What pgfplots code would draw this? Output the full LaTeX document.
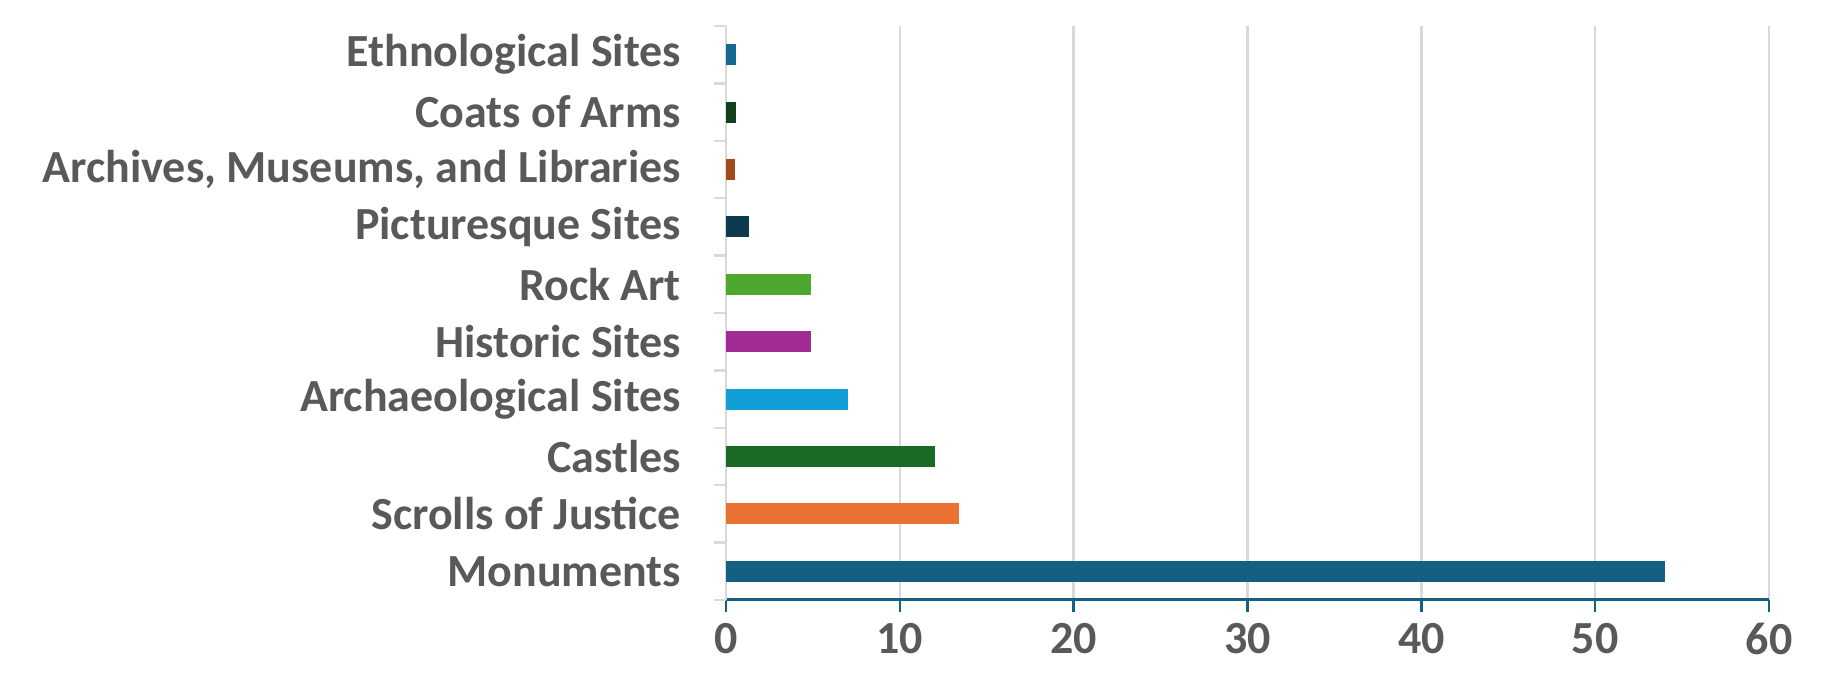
\documentclass[border=0pt]{standalone}
\usepackage{pgfplots}
\pgfplotsset{compat=1.18}
\usepackage{fontspec}
\setmainfont{Carlito}
\definecolor{cMon}{HTML}{156082}
\definecolor{cScr}{HTML}{E97132}
\definecolor{cCas}{HTML}{196B24}
\definecolor{cArc}{HTML}{0F9ED5}
\definecolor{cHis}{HTML}{A02B93}
\definecolor{cRoc}{HTML}{4EA72E}
\definecolor{cPic}{HTML}{0E3A50}
\definecolor{cAMl}{HTML}{A24A18}
\definecolor{cCoa}{HTML}{124119}
\definecolor{cEth}{HTML}{166890}
\definecolor{txt}{HTML}{595959}
\definecolor{gridc}{HTML}{D9D9D9}
\begin{document}
\begin{tikzpicture}
\useasboundingbox (0,0) rectangle (917pt,341.5pt);
\begin{axis}[
  at={(363pt,41.5pt)}, anchor=south west,
  width=521.5pt, height=287pt, scale only axis,
  xbar, bar width=10.5pt,
  xmin=0, xmax=60, ymin=-0.5, ymax=9.5,
  axis lines=left,
  axis line style={-},
  x axis line style={color=cMon, line width=1.5pt},
  y axis line style={color=gridc, line width=1.2pt},
  xtick={0,10,...,60},
  xtick style={color=cMon, line width=1.2pt},
  ytick={-0.5,0.5,...,9.5},
  yticklabels={},
  ytick style={color=gridc, line width=1.2pt},
  tick align=outside,
  major tick length=6pt,
  extra y ticks={0,1,2,3,4,5,6,7,8,9},
  extra y tick labels={Monuments,Scrolls of Justice,Castles,Archaeological Sites,Historic Sites,Rock Art,Picturesque Sites,{Archives, Museums, and Libraries},Coats of Arms,Ethnological Sites},
  extra y tick style={major tick length=0pt},
  xmajorgrids,
  grid style={color=gridc, line width=1.2pt},
  tick label style={font=\fontsize{23}{27}\selectfont\bfseries, color=txt},
  /pgf/number format/assume math mode=true,
  yticklabel style={xshift=-19pt},
  xticklabel style={yshift=-2pt},
  clip=false,
]
\addplot[draw=none, fill=cMon, bar shift=0pt] coordinates {(54,0)};
\addplot[draw=none, fill=cScr, bar shift=0pt] coordinates {(13.4,1)};
\addplot[draw=none, fill=cCas, bar shift=0pt] coordinates {(12,2)};
\addplot[draw=none, fill=cArc, bar shift=0pt] coordinates {(7,3)};
\addplot[draw=none, fill=cHis, bar shift=0pt] coordinates {(4.9,4)};
\addplot[draw=none, fill=cRoc, bar shift=0pt] coordinates {(4.9,5)};
\addplot[draw=none, fill=cPic, bar shift=0pt] coordinates {(1.3,6)};
\addplot[draw=none, fill=cAMl, bar shift=0pt] coordinates {(0.5,7)};
\addplot[draw=none, fill=cCoa, bar shift=0pt] coordinates {(0.6,8)};
\addplot[draw=none, fill=cEth, bar shift=0pt] coordinates {(0.6,9)};
\end{axis}
\end{tikzpicture}
\end{document}
